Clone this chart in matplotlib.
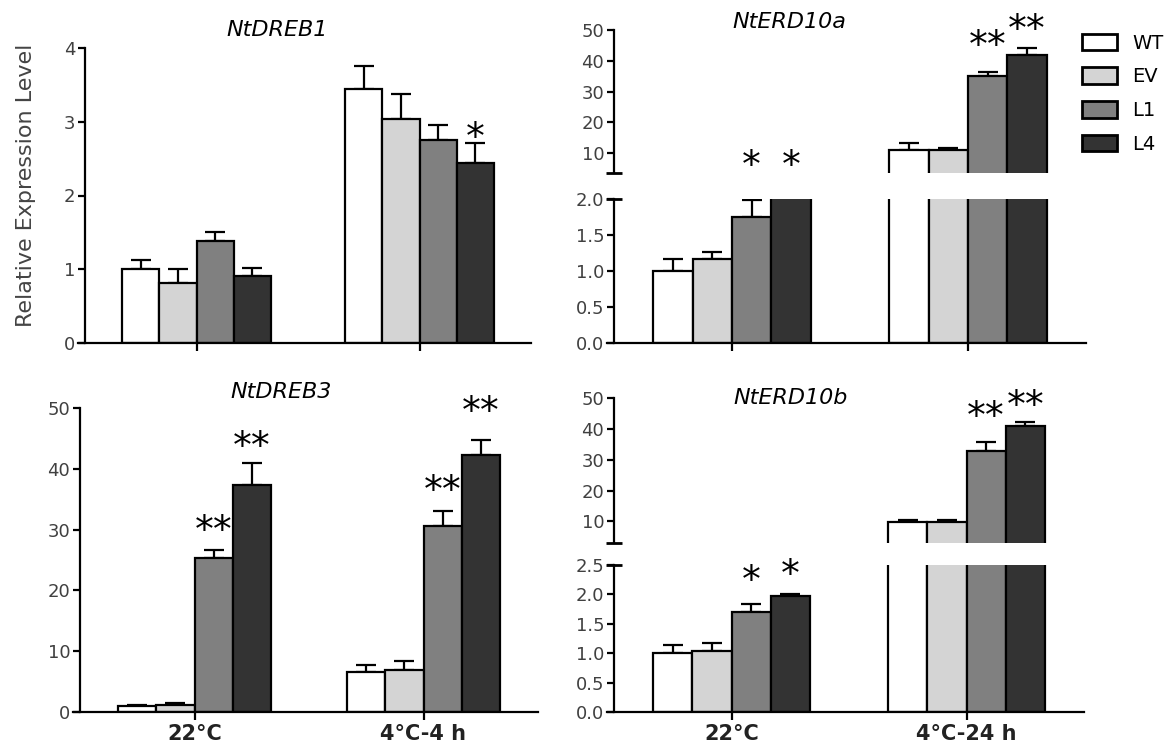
import matplotlib
matplotlib.use("Agg")
import matplotlib.pyplot as plt
from matplotlib.patches import Patch
import numpy as np

plt.rcParams['font.family'] = ['DejaVu Sans']

lines = ["WT", "EV", "L1", "L4"]
colors = ["#ffffff", "#d4d4d4", "#808080", "#333333"]
groups_top = ["", ""]
groups_dreb3 = ["22°C", "4°C-4 h"]
groups_erd10b = ["22°C", "4°C-24 h"]

# mean / upper error per line (WT, EV, L1, L4), two conditions each
ntdreb1_mean = [[1.00, 3.45], [0.82, 3.04], [1.38, 2.75], [0.91, 2.44]]
ntdreb1_err = [[0.13, 0.31], [0.18, 0.33], [0.13, 0.21], [0.11, 0.27]]
ntdreb3_mean = [[1.0, 6.6], [1.1, 6.9], [25.3, 30.6], [37.3, 42.2]]
ntdreb3_err = [[0.2, 1.1], [0.3, 1.5], [1.3, 2.4], [3.7, 2.5]]
nterd10a_mean = [[1.00, 11.1], [1.17, 11.1], [1.75, 34.9], [2.30, 41.8]]
nterd10a_err = [[0.17, 2.0], [0.10, 0.6], [0.24, 1.6], [0.10, 2.3]]
nterd10b_mean = [[1.00, 9.9], [1.03, 9.9], [1.70, 32.8], [1.97, 40.9]]
nterd10b_err = [[0.14, 0.5], [0.15, 0.5], [0.14, 2.9], [0.04, 1.3]]

# significance marks: (line index, condition index, label, y of mark)
ntdreb1_sig = [(3, 1, "*", 2.89)]
ntdreb3_sig = [(2, 0, "**", 31.2), (3, 0, "**", 45.0), (2, 1, "**", 37.7), (3, 1, "**", 50.8)]
nterd10a_sig_up = [(2, 0, "*", 8.6), (3, 0, "*", 8.6), (2, 1, "**", 47.4), (3, 1, "**", 52.6)]
nterd10b_sig_low = [(2, 0, "*", 2.38), (3, 0, "*", 2.47)]
nterd10b_sig_up = [(2, 1, "**", 46.7), (3, 1, "**", 50.3)]

W, H = 1174, 750
width = 0.167
offsets = np.array([-1.5, -0.5, 0.5, 1.5]) * width
xg = np.arange(2)
tick_color = "#404040"


def rect(left, right, top, bottom):
    return [left / W, 1 - bottom / H, (right - left) / W, (bottom - top) / H]


def style(ax, bottom=True):
    for s in ["top", "right"]:
        ax.spines[s].set_visible(False)
    ax.spines["left"].set_linewidth(1.6)
    ax.spines["bottom"].set_linewidth(1.6)
    ax.tick_params(axis="y", direction="out", length=5, width=1.6,
                   labelsize=13, labelcolor=tick_color, pad=2)
    ax.set_xlim(-0.5, 1.5)
    if bottom:
        ax.set_xticks(xg)
        ax.spines["bottom"].set_bounds(-0.53, 1.5)
        ax.tick_params(axis="x", direction="out", length=6, width=1.6,
                       labelsize=15, pad=3)
    else:
        ax.spines["bottom"].set_visible(False)
        ax.set_xticks([])


def draw(ax, mean, err):
    for i in range(4):
        pos = xg + offsets[i]
        ax.bar(pos, mean[i], width, color=colors[i], edgecolor="black",
               linewidth=1.6, zorder=2)
        ax.errorbar(pos, mean[i], yerr=[[0, 0], err[i]], fmt="none",
                    ecolor="black", elinewidth=1.6, capsize=7, capthick=1.6,
                    zorder=1)


def stars(ax, sig):
    for i, g, lab, y in sig:
        ax.annotate(lab, (xg[g] + offsets[i], y), xytext=(0, -14),
                    textcoords="offset points", ha="center", va="baseline",
                    fontsize=27, color="black", annotation_clip=False)


def break_mark(ax, yfrac):
    ax.plot([0], [yfrac], marker="_", ms=12, mew=2, color="black",
            transform=ax.transAxes, clip_on=False)


fig = plt.figure(figsize=(W / 100, H / 100), dpi=100)

# NtDREB1
ax1 = fig.add_axes(rect(85, 531, 48, 343))
draw(ax1, ntdreb1_mean, ntdreb1_err)
style(ax1)
ax1.set_ylim(0, 4)
ax1.set_yticks([0, 1, 2, 3, 4])
ax1.set_xticklabels(groups_top)
stars(ax1, ntdreb1_sig)
ax1.set_ylabel("Relative Expression Level", fontsize=16, color="#444444")
ax1.yaxis.set_label_coords(-0.11, 0.535)
fig.text(277 / W, 1 - 30 / H, "NtDREB1", style="italic", fontsize=16,
         ha="center", va="center")

# NtDREB3
ax2 = fig.add_axes(rect(80, 538, 408, 712))
draw(ax2, ntdreb3_mean, ntdreb3_err)
style(ax2)
ax2.set_ylim(0, 50)
ax2.set_yticks([0, 10, 20, 30, 40, 50])
ax2.set_xticklabels(groups_dreb3, fontweight="bold", color="#222222")
stars(ax2, ntdreb3_sig)
fig.text(281 / W, 1 - 392 / H, "NtDREB3", style="italic", fontsize=16,
         ha="center", va="center")

# NtERD10a (broken axis)
ax3u = fig.add_axes(rect(614, 1086, 30, 173))
ax3l = fig.add_axes(rect(614, 1086, 199, 343))
for a in (ax3u, ax3l):
    draw(a, nterd10a_mean, nterd10a_err)
style(ax3u, bottom=False)
style(ax3l)
ax3u.set_ylim(3.5, 50)
ax3u.set_yticks([10, 20, 30, 40, 50])
ax3l.set_ylim(0, 2)
ax3l.set_yticks([0, 0.5, 1.0, 1.5, 2.0])
ax3l.set_yticklabels(["0.0", "0.5", "1.0", "1.5", "2.0"])
ax3l.set_xticklabels(groups_top)
break_mark(ax3u, 0)
break_mark(ax3l, 1)
stars(ax3u, nterd10a_sig_up)
fig.text(789 / W, 1 - 22 / H, "NtERD10a", style="italic", fontsize=16,
         ha="center", va="center")

# NtERD10b (broken axis)
ax4u = fig.add_axes(rect(614, 1084, 398, 543))
ax4l = fig.add_axes(rect(614, 1084, 565, 712))
for a in (ax4u, ax4l):
    draw(a, nterd10b_mean, nterd10b_err)
style(ax4u, bottom=False)
style(ax4l)
ax4u.set_ylim(3, 50)
ax4u.set_yticks([10, 20, 30, 40, 50])
ax4l.set_ylim(0, 2.5)
ax4l.set_yticks([0, 0.5, 1.0, 1.5, 2.0, 2.5])
ax4l.set_yticklabels(["0.0", "0.5", "1.0", "1.5", "2.0", "2.5"])
ax4l.set_xticklabels(groups_erd10b, fontweight="bold", color="#222222")
break_mark(ax4u, 0)
break_mark(ax4l, 1)
stars(ax4u, nterd10b_sig_up)
stars(ax4l, nterd10b_sig_low)
fig.text(791 / W, 1 - 398 / H, "NtERD10b", style="italic", fontsize=16,
         ha="center", va="center")

handles = [Patch(facecolor=c, edgecolor="black", linewidth=2) for c in colors]
fig.legend(handles, lines, loc="upper left", bbox_to_anchor=(1072 / W, 1 - 24 / H),
           frameon=False, fontsize=14, handlelength=1.8, handleheight=0.95,
           labelspacing=0.75, handletextpad=0.8, borderpad=0)

fig.savefig("out.png", dpi=100)
plt.close(fig)
